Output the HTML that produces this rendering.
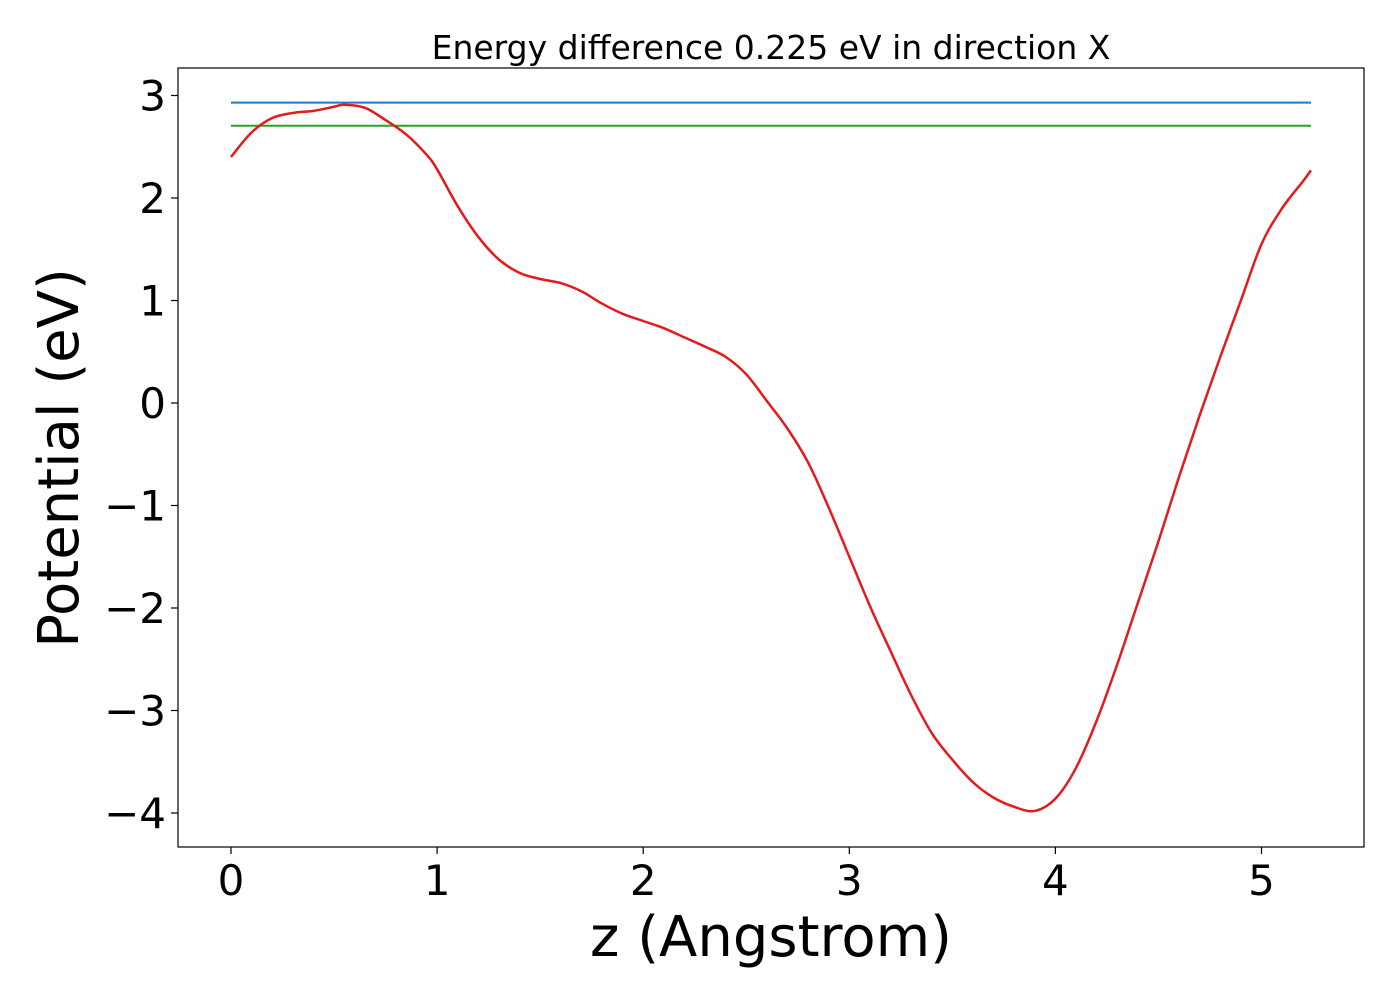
<!DOCTYPE html>
<html><head><meta charset="utf-8"><style>
body{margin:0;background:#fff}
svg text{font-family:"DejaVu Sans","Liberation Sans",sans-serif}
</style></head><body>
<svg id="chart" width="1400" height="1000" xmlns="http://www.w3.org/2000/svg">
<rect width="1400" height="1000" fill="#fff"/>
<text x="771" y="59" font-size="33" text-anchor="middle">Energy difference 0.225 eV in direction X</text>
<g id="plot"></g>
<rect x="178" y="68" width="1186" height="779" fill="none" stroke="#000" stroke-width="1.2"/>
<text x="771" y="956" font-size="56" text-anchor="middle">z (Angstrom)</text>
<text transform="translate(78,458) rotate(-90)" font-size="56" text-anchor="middle">Potential (eV)</text>
</svg>
<script>
const xTicks=[0,1,2,3,4,5];
const yTicks=[3,2,1,0,-1,-2,-3,-4];
const levelBlue=2.93;
const levelGreen=2.705;
const levelXRange=[0,5.24];
const curveX=[0,0.1,0.2,0.3,0.4,0.5,0.55,0.65,0.75,0.85,0.95,1.0,1.1,1.2,1.3,1.4,1.5,1.6,1.7,1.8,1.9,2.0,2.1,2.2,2.3,2.4,2.5,2.6,2.7,2.8,2.9,3.0,3.1,3.2,3.3,3.4,3.5,3.6,3.7,3.8,3.9,4.0,4.1,4.2,4.3,4.4,4.5,4.6,4.7,4.8,4.9,5.0,5.1,5.2,5.24];
const curveY=[2.40,2.64,2.78,2.83,2.85,2.89,2.91,2.88,2.76,2.62,2.42,2.28,1.92,1.62,1.40,1.27,1.21,1.17,1.09,0.97,0.87,0.80,0.73,0.64,0.55,0.45,0.28,0.02,-0.25,-0.58,-1.02,-1.50,-1.98,-2.42,-2.85,-3.22,-3.48,-3.70,-3.85,-3.94,-3.98,-3.86,-3.56,-3.10,-2.55,-1.95,-1.35,-0.72,-0.12,0.45,1.0,1.55,1.90,2.16,2.27];
const sx=v=>231+v*206.1;
const sy=v=>403-v*102.5;
const NS="http://www.w3.org/2000/svg";
const g=document.getElementById('plot');
function mk(t,a){const e=document.createElementNS(NS,t);for(const k in a)e.setAttribute(k,a[k]);g.appendChild(e);return e;}
xTicks.forEach(t=>{
 const l=mk('line',{x1:sx(t),x2:sx(t),y1:847,y2:854,stroke:'#000','stroke-width':1.2});
 
 
 const tx=mk('text',{x:sx(t),y:895,'font-size':42,'text-anchor':'middle'});tx.textContent=t;
 
 
});
yTicks.forEach(t=>{
 const l=mk('line',{x1:171,x2:178,y1:sy(t),y2:sy(t),stroke:'#000','stroke-width':1.2});
 
 
 const tx=mk('text',{x:166,y:sy(t)+15,'font-size':42,'text-anchor':'end'});tx.textContent=(t<0?'\u2212'+(-t):t);
 
 
});
const b=mk('line',{x1:sx(levelXRange[0]),x2:sx(levelXRange[1]),y1:sy(levelBlue),y2:sy(levelBlue),stroke:'#1f77d4','stroke-width':2});


const gr=mk('line',{x1:sx(levelXRange[0]),x2:sx(levelXRange[1]),y1:sy(levelGreen),y2:sy(levelGreen),stroke:'#2ca02c','stroke-width':2});


const P=curveX.map((x,i)=>[sx(x),sy(curveY[i])]);
let d='M'+P[0][0]+','+P[0][1];
for(let i=0;i<P.length-1;i++){
 const p0=P[Math.max(0,i-1)],p1=P[i],p2=P[i+1],p3=P[Math.min(P.length-1,i+2)];
 const c1=[p1[0]+(p2[0]-p0[0])/6,p1[1]+(p2[1]-p0[1])/6],c2=[p2[0]-(p3[0]-p1[0])/6,p2[1]-(p3[1]-p1[1])/6];
 d+=' C'+c1+' '+c2+' '+p2;
}
const c=mk('path',{d:d,fill:'none',stroke:'#e41a1c','stroke-width':2.5});


</script>
</body></html>
